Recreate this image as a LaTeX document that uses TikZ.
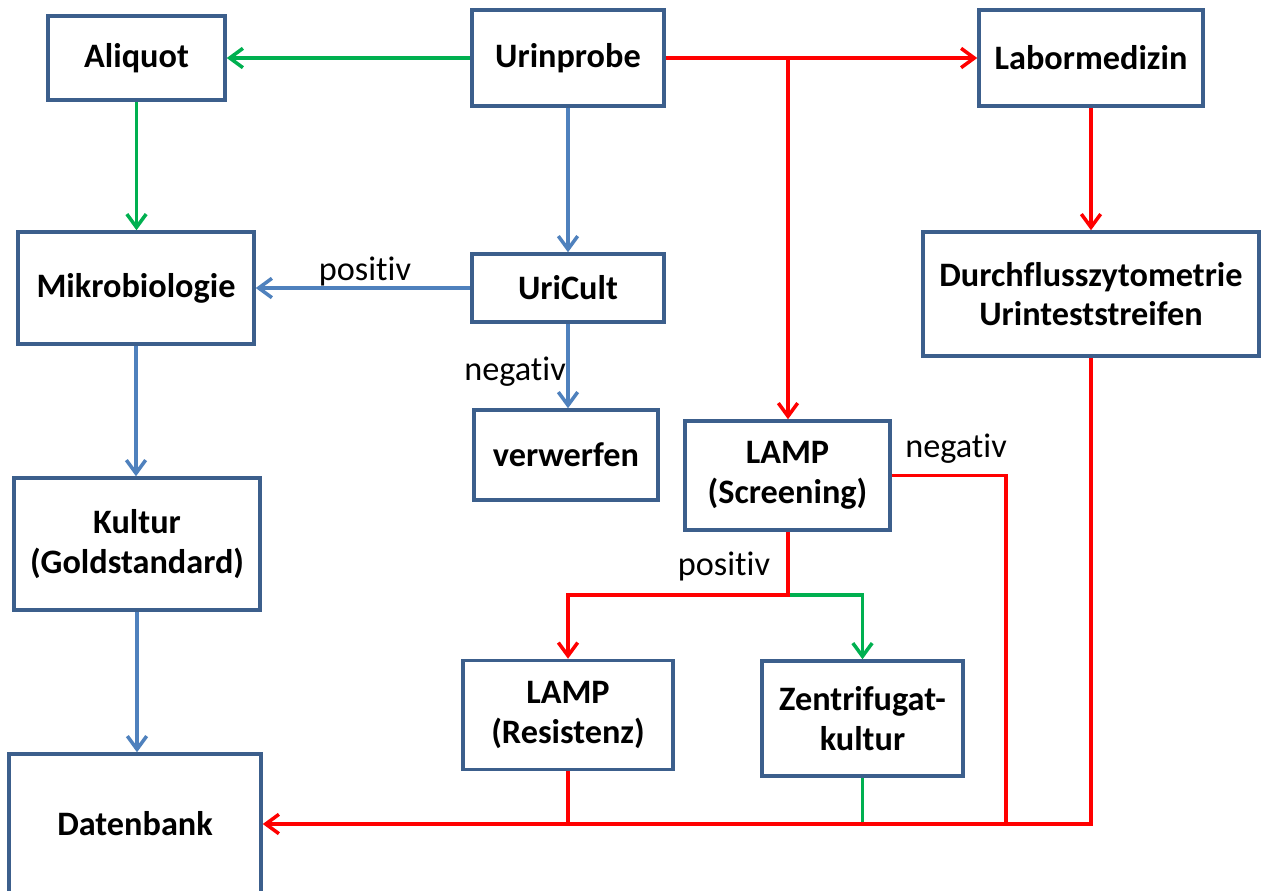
\documentclass[tikz,border=0pt]{standalone}
\usepackage{fontspec}
\setmainfont[Ligatures=NoCommon]{Carlito}
\usetikzlibrary{arrows.meta}
\definecolor{boxc}{HTML}{3C5F8C}
\definecolor{gr}{HTML}{00B050}
\definecolor{rd}{HTML}{FF0000}
\definecolor{bl}{HTML}{4F81BD}
\tikzset{
  box/.style={draw=boxc, line width=2pt, fill=white, align=center, inner sep=0pt,
    font=\fontsize{19.5}{22.5}\selectfont\bfseries},
  lbl/.style={font=\fontsize{19.5}{22.5}\selectfont, inner sep=0pt},
  conn/.style={line width=2.1pt, -{Straight Barb[length=7.5pt,width=11pt,line width=2pt]}},
  bare/.style={line width=2.1pt},
}
\begin{document}
\begin{tikzpicture}[x=0.02cm,y=-0.02cm]
\useasboundingbox (0,0) rectangle (1261,890);
% nodes
\node[box, minimum width=177*0.02cm, minimum height=84*0.02cm] (a) at (136.5,58) {Aliquot};
\node[box, minimum width=192*0.02cm, minimum height=96*0.02cm] (u) at (568,58) {Urinprobe};
\node[box, minimum width=224*0.02cm, minimum height=96*0.02cm] (l) at (1091,58) {Labormedizin};
\node[box, minimum width=236*0.02cm, minimum height=112*0.02cm] (m) at (136,288) {Mikrobiologie};
\node[box, minimum width=192*0.02cm, minimum height=68*0.02cm] (uc) at (568,288) {UriCult};
\node[box, minimum width=336*0.02cm, minimum height=124*0.02cm] (d) at (1091,294) {Durchflusszytometrie\\Urinteststreifen};
\node[box, minimum width=184*0.02cm, minimum height=90*0.02cm] (v) at (566,455) {verwerfen};
\node[box, minimum width=205*0.02cm, minimum height=109*0.02cm] (ls) at (787.5,475.5) {LAMP\\(Screening)};
\node[box, minimum width=246*0.02cm, minimum height=132*0.02cm] (k) at (137,544) {Kultur\\(Goldstandard)};
\node[box, minimum width=210*0.02cm, minimum height=109*0.02cm] (lr) at (568,715) {LAMP\\(Resistenz)};
\node[box, minimum width=201*0.02cm, minimum height=115*0.02cm] (z) at (862.5,718.5) {Zentrifugat-\\kultur};
\node[box, minimum width=252*0.02cm, minimum height=140*0.02cm] (db) at (135,824) {Datenbank};
% junction coordinates
\coordinate (j1) at (788,58);
\coordinate (j2) at (788,595);
\coordinate (j3) at (1006,824);
% labels
\node[lbl] (p1) at (365,271) {positiv};
\node[lbl] (n1) at (515,372) {negativ};
\node[lbl] (p2) at (724,566) {positiv};
\node[lbl] (n2) at (956,449) {negativ};
% green
\draw[conn, gr] (u.west) -- (a.east);
\draw[conn, gr] (a.south) -- (a.south |- m.north);
\draw[conn, gr] (j2) -| (z.north);
\draw[bare, gr] (z.south) -- (z.south |- db.east);
% blue
\draw[conn, bl] (u.south) -- (uc.north);
\draw[conn, bl] (uc.west) -- (m.east);
\draw[conn, bl] (uc.south) -- (uc.south |- v.north);
\draw[conn, bl] (m.south) -- (m.south |- k.north);
\draw[conn, bl] (k.south) -- (k.south |- db.north);
% red
\draw[conn, rd] (u.east) -- (l.west);
\draw[conn, rd] (j1) -- (j1 |- ls.north);
\draw[conn, rd] (l.south) -- (d.north);
\draw[conn, rd] (ls.south -| j2) -- (j2) -| (lr.north);
\draw[bare, rd] (ls.east) -| (j3);
\draw[conn, rd] (d.south) |- (db.east);
\draw[bare, rd] (lr.south) -- (lr.south |- db.east);
\end{tikzpicture}
\end{document}
